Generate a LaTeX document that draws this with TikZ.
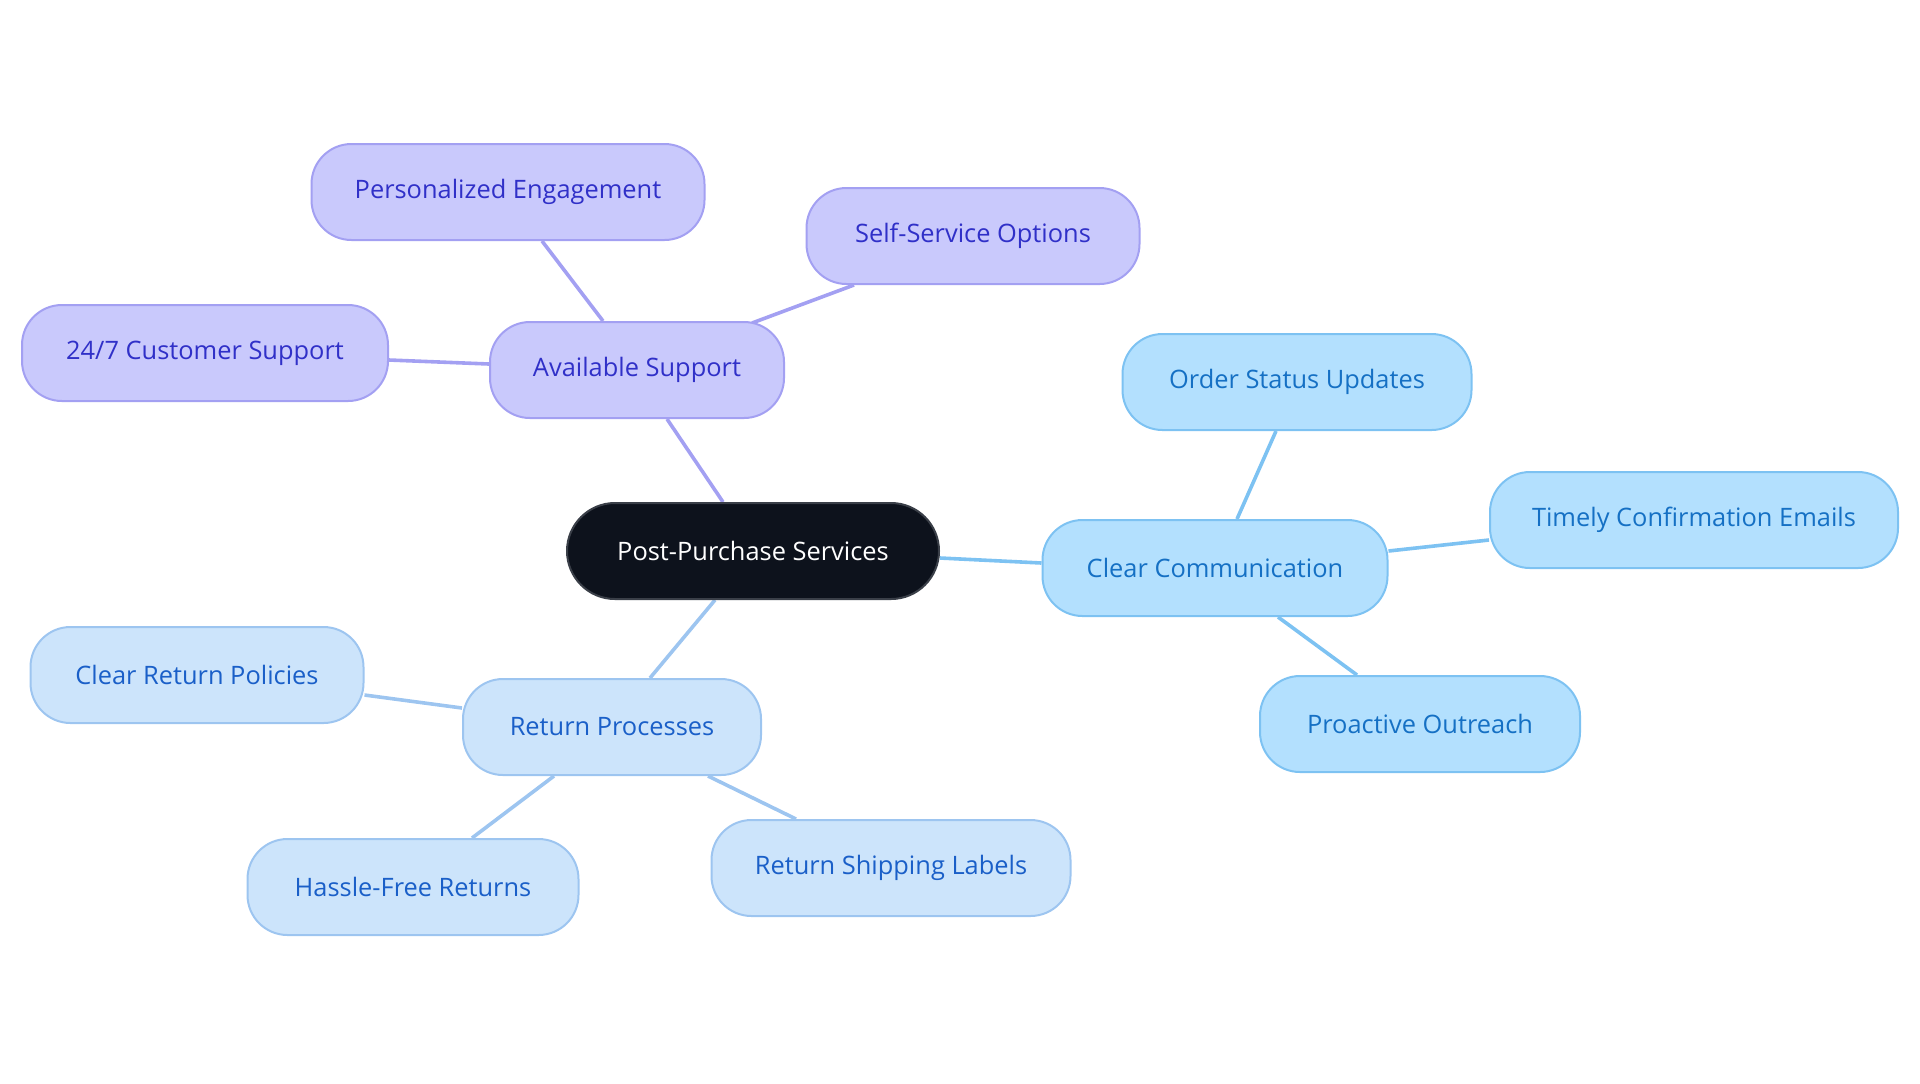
\documentclass[tikz,border=0pt]{standalone}
\usepackage{fontspec}
\setmainfont{Open Sans}
\usetikzlibrary{calc,backgrounds}

\definecolor{rootfill}{HTML}{0D121C}
\definecolor{rootline}{HTML}{3A3F48}
\definecolor{suppfill}{HTML}{C9C9FC}
\definecolor{suppline}{HTML}{A3A0F2}
\definecolor{supptext}{HTML}{3030C8}
\definecolor{commfill}{HTML}{B3E0FE}
\definecolor{commline}{HTML}{7DC2F2}
\definecolor{commtext}{HTML}{1570C4}
\definecolor{retfill}{HTML}{CCE4FB}
\definecolor{retline}{HTML}{9DC5F0}
\definecolor{rettext}{HTML}{1A5FC8}

\begin{document}
\begin{tikzpicture}[x=0.5pt,y=-0.5pt,
    box/.style={rounded corners=20pt, minimum height=48pt, inner xsep=0pt, line width=1pt,
      font=\fontsize{12.7}{15}\selectfont},
    root/.style={box, fill=rootfill, draw=rootline, text=white, rounded corners=24pt},
    supp/.style={box, fill=suppfill, draw=suppline, text=supptext},
    comm/.style={box, fill=commfill, draw=commline, text=commtext},
    ret/.style={box, fill=retfill, draw=retline, text=rettext},
    suppedge/.style={draw=suppline, line width=1.8pt},
    commedge/.style={draw=commline, line width=1.8pt},
    retedge/.style={draw=retline, line width=1.8pt}]

    \useasboundingbox (0,0) rectangle (1920,1083);

    \node[root, minimum width=186pt] (root) at (753,551) {Post-Purchase Services};

    \node[supp, minimum width=147pt] (avail) at (637,370) {Available Support};
    \node[supp, minimum width=196.5pt] (pers) at (508,192) {Personalized Engagement};
    \node[supp, minimum width=166.5pt] (self) at (973,236) {Self-Service Options};
    \node[supp, minimum width=183pt] (cust) at (205,353) {24/7 Customer Support};

    \node[comm, minimum width=172.5pt] (comm) at (1215,568) {Clear Communication};
    \node[comm, minimum width=174.5pt] (order) at (1297,382) {Order Status Updates};
    \node[comm, minimum width=204pt] (timely) at (1694,520) {Timely Confirmation Emails};
    \node[comm, minimum width=160pt] (outreach) at (1420,724) {Proactive Outreach};

    \node[ret, minimum width=149pt] (ret) at (612,727) {Return Processes};
    \node[ret, minimum width=166.5pt] (policy) at (197,675) {Clear Return Policies};
    \node[ret, minimum width=165.5pt] (hassle) at (413,887) {Hassle-Free Returns};
    \node[ret, minimum width=179.5pt] (label) at (891,868) {Return Shipping Labels};

    \begin{scope}[on background layer]
    \draw[suppedge] ($(root.north)+(-30,0)$) -- ($(avail.south)+(30,0)$);
    \draw[suppedge] ($(avail.north)+(-34,0)$) -- ($(pers.south)+(34,0)$);
    \draw[suppedge] ($(avail.north)+(115,2)$) -- ($(self.south)+(-119,0)$);
    \draw[suppedge] ($(avail.west)+(0,-6)$) -- ($(cust.east)+(0,7)$);
    %
    \draw[commedge] ($(root.east)+(0,7)$) -- ($(comm.west)+(0,-5)$);
    \draw[commedge] ($(comm.north)+(22,0)$) -- ($(order.south)+(-21,0)$);
    \draw[commedge] ($(comm.east)+(0,-17)$) -- ($(timely.west)+(0,20)$);
    \draw[commedge] ($(comm.south)+(63,0)$) -- ($(outreach.north)+(-63,0)$);
    %
    \draw[retedge] ($(root.south)+(-38,0)$) -- ($(ret.north)+(38,0)$);
    \draw[retedge] ($(ret.west)+(0,-19)$) -- ($(policy.east)+(0,20)$);
    \draw[retedge] ($(ret.south)+(-58,0)$) -- ($(hassle.north)+(59,0)$);
    \draw[retedge] ($(ret.south)+(96,0)$) -- ($(label.north)+(-95,0)$);
    \end{scope}
\end{tikzpicture}
\end{document}
